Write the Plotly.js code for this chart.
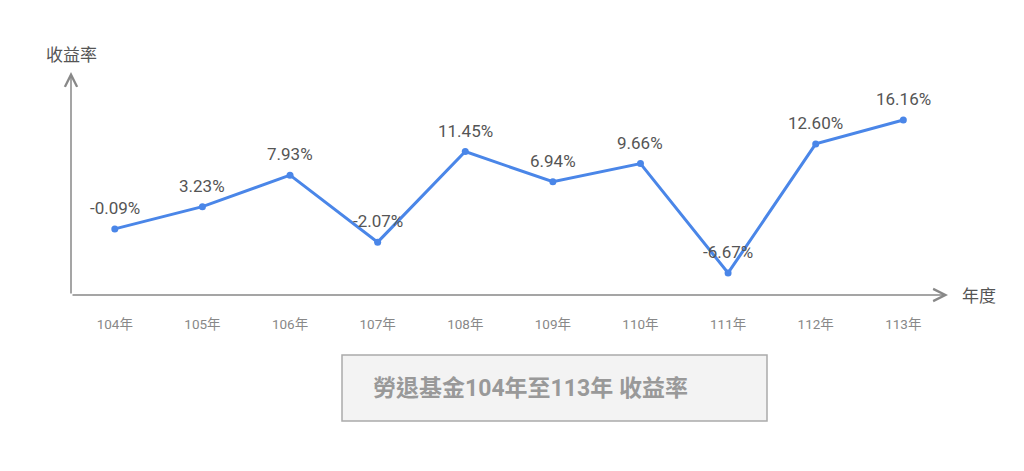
<!DOCTYPE html>
<html>
<head>
<meta charset="utf-8">
<script src="https://cdn.plot.ly/plotly-3.0.1.min.js"></script>
<style>
  html, body { margin: 0; padding: 0; background: #fff; }
  #chart { width: 1024px; height: 471px; }
</style>
</head>
<body>
<div id="chart"></div>
<script>
// 勞退基金 年度收益率 (%)
var years = ["104年", "105年", "106年", "107年", "108年", "109年", "110年", "111年", "112年", "113年"];
var returns = [-0.09, 3.23, 7.93, -2.07, 11.45, 6.94, 9.66, -6.67, 12.60, 16.16];
var chartTitle = "勞退基金104年至113年 收益率";

var FONT = "Roboto, 'Noto Sans CJK TC', sans-serif";
var idx = years.map(function(d, i) { return i; });
var labels = returns.map(function(v) { return v.toFixed(2) + "%"; });

var W = 1024, H = 471;
var xr = [-0.5, 9.51];
var yr = [-9.96, 23.33];

var trace = {
  x: idx,
  y: returns,
  type: "scatter",
  mode: "lines+markers",
  line: { color: "#4a86e8", width: 3 },
  marker: { color: "#4a86e8", size: 7 },
  cliponaxis: false,
  hoverinfo: "skip"
};

// value labels above each point
var valueNotes = idx.map(function(i) {
  return {
    x: i, y: returns[i], xref: "x", yref: "y",
    text: labels[i], showarrow: false,
    xanchor: "center", yanchor: "middle", yshift: 21,
    font: { family: FONT, size: 17, color: "#555" }
  };
});

var layout = {
  width: W,
  height: H,
  margin: { l: 0, r: 0, t: 0, b: 0 },
  paper_bgcolor: "#fff",
  plot_bgcolor: "#fff",
  showlegend: false,
  font: { family: FONT },
  xaxis: {
    domain: [71 / W, 948 / W],
    range: xr,
    tickvals: idx,
    ticktext: years,
    tickfont: { family: FONT, size: 13.5, color: "#888" },
    ticks: "",
    ticklabelstandoff: 19,
    showgrid: false,
    zeroline: false,
    showline: false
  },
  yaxis: {
    domain: [1 - 295 / H, 1 - 72 / H],
    range: yr,
    showticklabels: false,
    ticks: "",
    showgrid: false,
    zeroline: false,
    showline: false
  },
  annotations: [
    { // x axis arrow
      x: xr[1], y: yr[0], xref: "x", yref: "y",
      ax: xr[0], ay: yr[0], axref: "x", ayref: "y",
      text: "", showarrow: true, arrowhead: 5, arrowsize: 1.6,
      arrowwidth: 1.5, arrowcolor: "#888"
    },
    { // y axis arrow
      x: xr[0], y: yr[1], xref: "x", yref: "y",
      ax: xr[0], ay: yr[0], axref: "x", ayref: "y",
      text: "", showarrow: true, arrowhead: 5, arrowsize: 1.6,
      arrowwidth: 1.5, arrowcolor: "#888"
    },
    {
      x: 44 / W, y: 1 - 55 / H, xref: "paper", yref: "paper",
      xanchor: "left", yanchor: "middle", showarrow: false,
      text: "收益率", font: { family: FONT, size: 17, color: "#555" }
    },
    {
      x: 960 / W, y: 1 - 296 / H, xref: "paper", yref: "paper",
      xanchor: "left", yanchor: "middle", showarrow: false,
      text: "年度", font: { family: FONT, size: 17, color: "#555" }
    },
    {
      x: 371 / W, y: 1 - 388 / H, xref: "paper", yref: "paper",
      xanchor: "left", yanchor: "middle", showarrow: false,
      text: "<b>" + chartTitle + "</b>",
      font: { family: FONT, size: 23, color: "#999" }
    }
  ].concat(valueNotes),
  shapes: [
    {
      type: "rect", xref: "paper", yref: "paper",
      x0: 342 / W, x1: 767 / W, y0: 1 - 421 / H, y1: 1 - 355 / H,
      fillcolor: "#f3f3f3", line: { color: "#aaa", width: 1.5 },
      layer: "below"
    }
  ]
};

Plotly.newPlot("chart", [trace], layout, { staticPlot: true, displayModeBar: false });
</script>
</body>
</html>
